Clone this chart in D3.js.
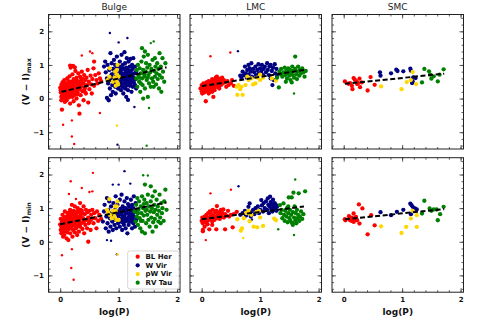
<!DOCTYPE html>
<html><head><meta charset="utf-8">
<script src="https://cdn.jsdelivr.net/npm/d3@7"></script>
<style>body{margin:0;background:#fff}svg{display:block}</style>
</head><body>
<script>
// ---------- DATA ----------
const regions = ["Bulge", "LMC", "SMC"];
const classes = ["BL Her", "W Vir", "pW Vir", "RV Tau"];
const xTicks = [0, 1, 2];
const yTicks = [-1, 0, 1, 2];

// Bulge (V-I)max
const bulgeMaxBLHer = [[0.00,0.32],[0.01,0.18],[0.02,0.05],[0.02,0.41],[0.03,-0.33],[0.03,0.26],[0.04,0.12],[0.04,0.36],[0.05,0.21],[0.05,0.48],[0.06,0.02],[0.06,0.30],[0.07,0.15],[0.07,0.55],[0.08,-0.10],[0.08,0.38],[0.09,0.24],[0.09,0.08],[0.10,0.45],[0.10,0.17],[0.11,0.31],[0.11,-0.05],[0.12,0.60],[0.12,0.22],[0.13,0.10],[0.13,0.40],[0.14,0.28],[0.14,0.52],[0.15,0.03],[0.15,0.35],[0.16,0.19],[0.16,0.66],[0.17,0.44],[0.17,-0.15],[0.17,0.98],[0.18,0.27],[0.18,0.92],[0.19,0.12],[0.19,0.50],[0.20,0.33],[0.21,0.05],[0.21,0.72],[0.22,0.40],[0.22,0.20],[0.22,0.97],[0.23,0.58],[0.23,-0.08],[0.24,0.30],[0.25,0.93],[0.25,0.15],[0.26,0.47],[0.26,0.82],[0.27,0.25],[0.28,0.62],[0.28,0.00],[0.29,0.38],[0.30,0.52],[0.30,0.18],[0.31,0.75],[0.32,-0.20],[0.32,0.42],[0.33,-0.45],[0.33,0.28],[0.34,0.65],[0.35,0.10],[0.35,0.50],[0.36,0.35],[0.37,0.80],[0.38,0.22],[0.39,0.58],[0.40,0.45],[0.40,-0.05],[0.41,0.70],[0.42,0.30],[0.43,0.55],[0.44,0.15],[0.45,0.62],[0.46,0.40],[0.47,0.85],[0.48,-0.12],[0.49,0.50],[0.50,0.28],[0.52,0.68],[0.53,0.42],[0.54,0.15],[0.55,0.58],[0.57,0.90],[0.58,1.10],[0.58,0.38],[0.60,0.70],[0.62,0.55],[0.64,0.45],[0.66,0.75],[0.68,0.60],[0.70,0.52],[0.01,0.25],[0.03,0.08],[0.04,0.48],[0.06,0.20],[0.08,0.28],[0.09,0.40],[0.11,0.12],[0.12,0.34],[0.14,0.05],[0.15,0.22],[0.16,0.42],[0.18,0.15],[0.19,0.30],[0.21,0.48],[0.23,0.35],[0.24,0.10],[0.26,0.25],[0.27,0.55],[0.29,0.12],[0.31,0.30],[0.34,0.40],[0.36,0.60],[0.38,0.45],[0.42,0.20],[0.44,0.38],[0.02,-0.05],[0.07,0.35],[0.10,0.00],[0.13,0.20],[0.20,0.10]];
const bulgeMaxBLHerFaint = [[0.05,-0.78],[0.20,-0.65],[0.20,-1.13],[0.24,-1.35],[0.37,1.28],[0.51,1.40],[0.55,1.35],[0.68,-0.43]];
const bulgeMaxWVir = [[0.75,0.95],[0.77,1.10],[0.78,0.78],[0.80,0.02],[0.80,0.60],[0.81,1.00],[0.82,0.45],[0.83,-0.05],[0.84,0.85],[0.85,0.30],[0.86,1.35],[0.86,0.55],[0.87,0.10],[0.88,0.72],[0.88,1.05],[0.89,0.40],[0.90,0.88],[0.90,0.20],[0.91,0.62],[0.92,1.15],[0.92,0.50],[0.93,0.78],[0.94,0.35],[0.94,1.00],[0.95,0.65],[0.95,0.15],[0.96,0.90],[0.96,0.45],[0.97,1.25],[0.97,0.58],[0.98,0.80],[0.99,0.30],[1.00,0.70],[1.00,0.50],[1.01,0.95],[1.02,0.40],[1.02,1.10],[1.03,0.62],[1.04,0.25],[1.04,0.85],[1.05,0.55],[1.05,1.30],[1.06,0.75],[1.06,0.35],[1.07,1.00],[1.08,0.60],[1.08,0.15],[1.09,0.88],[1.09,0.45],[1.10,1.38],[1.10,0.68],[1.11,0.30],[1.11,1.05],[1.12,0.55],[1.12,0.80],[1.13,0.05],[1.13,0.92],[1.14,0.40],[1.14,1.20],[1.15,0.65],[1.16,0.25],[1.16,0.85],[1.16,-0.04],[1.17,0.50],[1.17,1.10],[1.18,0.72],[1.19,0.38],[1.19,0.95],[1.20,0.60],[1.20,1.18],[1.21,0.45],[1.21,0.82],[1.22,0.20],[1.22,0.70],[1.23,1.00],[1.23,0.55],[1.24,0.35],[1.24,0.88],[1.25,0.62],[1.25,1.20],[1.26,0.48],[1.27,0.75],[1.28,0.40],[1.28,0.95],[1.29,0.58],[1.30,0.30],[1.30,0.80],[1.03,0.48],[1.07,0.70],[1.13,0.62],[1.18,0.48],[1.22,0.58],[0.98,0.62],[1.01,0.38],[1.03,0.78],[1.05,0.42],[1.07,0.58],[1.09,0.72],[1.11,0.48],[1.13,0.75],[1.15,0.52],[1.17,0.62],[1.19,0.78],[1.21,0.65],[1.24,0.72],[1.26,0.60],[1.06,0.90],[1.12,0.35]];
const bulgeMaxWVirFaint = [[0.85,1.95],[1.00,1.67],[1.15,1.80],[1.27,-0.25],[0.98,-1.37]];
const bulgeMaxPWVir = [[0.81,0.55],[0.84,0.65],[0.85,0.90],[0.90,0.50],[0.93,0.62],[0.94,0.80],[0.95,0.38],[0.96,0.55],[0.97,0.72],[0.98,1.00],[0.98,0.48],[0.99,0.42],[0.95,0.58],[0.97,0.85],[1.00,0.65]];
const bulgeMaxPWVirFaint = [[0.97,-0.80]];
const bulgeMaxRVTau = [[1.30,0.60],[1.31,0.85],[1.32,0.35],[1.33,1.00],[1.34,0.70],[1.35,0.50],[1.36,0.90],[1.37,0.20],[1.38,0.75],[1.39,1.10],[1.40,0.60],[1.40,1.50],[1.41,0.40],[1.42,0.00],[1.42,0.85],[1.43,1.25],[1.44,0.65],[1.45,1.40],[1.45,0.30],[1.46,0.80],[1.47,1.05],[1.48,0.55],[1.49,0.92],[1.50,0.05],[1.50,1.30],[1.51,0.70],[1.52,0.45],[1.53,1.00],[1.54,0.78],[1.55,0.35],[1.56,0.88],[1.57,0.60],[1.58,1.15],[1.59,0.50],[1.60,0.35],[1.61,0.82],[1.62,1.20],[1.62,0.65],[1.63,0.95],[1.64,0.42],[1.65,0.75],[1.66,1.05],[1.67,0.58],[1.68,0.88],[1.69,0.30],[1.70,1.35],[1.70,0.70],[1.72,0.95],[1.73,0.20],[1.74,0.62],[1.75,1.20],[1.76,0.80],[1.78,0.50],[1.80,1.05],[1.35,0.62],[1.38,0.45],[1.44,0.72],[1.50,0.62]];
const bulgeMaxRVTauFaint = [[1.48,-1.40],[1.52,-0.28],[1.55,1.65],[1.60,1.70]];
const bulgeMaxFit = [[0.02,0.20],[1.82,0.93]];

// Bulge (V-I)min
const bulgeMinBLHer = [[0.00,0.52],[0.01,0.35],[0.01,0.68],[0.02,0.25],[0.02,0.45],[0.03,0.60],[0.04,0.30],[0.04,0.80],[0.05,0.48],[0.05,0.15],[0.06,0.62],[0.06,0.38],[0.07,0.72],[0.07,0.20],[0.08,0.50],[0.08,0.90],[0.09,0.33],[0.09,0.58],[0.10,0.42],[0.10,0.75],[0.11,0.10],[0.11,0.55],[0.12,0.65],[0.12,0.28],[0.13,0.85],[0.13,0.45],[0.14,0.60],[0.14,0.05],[0.15,0.38],[0.16,0.70],[0.16,0.50],[0.17,0.95],[0.17,0.25],[0.18,0.62],[0.19,0.42],[0.20,0.80],[0.20,1.10],[0.21,0.55],[0.21,0.15],[0.22,0.70],[0.22,0.35],[0.23,0.92],[0.24,0.48],[0.24,0.62],[0.25,1.05],[0.25,0.28],[0.26,0.75],[0.26,0.52],[0.27,0.40],[0.28,0.85],[0.28,0.60],[0.29,0.20],[0.30,0.70],[0.30,1.00],[0.31,0.48],[0.32,0.88],[0.32,0.30],[0.33,0.62],[0.34,1.15],[0.34,0.45],[0.35,0.78],[0.36,0.55],[0.37,0.92],[0.38,0.38],[0.39,0.70],[0.40,0.58],[0.40,1.05],[0.41,0.25],[0.42,0.82],[0.43,0.50],[0.44,0.95],[0.45,0.65],[0.46,0.40],[0.47,0.88],[0.48,0.00],[0.48,0.72],[0.49,0.55],[0.50,0.92],[0.51,0.62],[0.52,0.35],[0.53,0.80],[0.54,0.68],[0.55,0.95],[0.57,0.55],[0.58,0.85],[0.60,0.70],[0.62,0.40],[0.63,0.90],[0.65,0.62],[0.67,0.80],[0.70,0.68],[0.01,0.50],[0.03,0.38],[0.04,0.62],[0.06,0.50],[0.08,0.35],[0.09,0.70],[0.11,0.40],[0.12,0.52],[0.14,0.75],[0.15,0.55],[0.17,0.45],[0.18,0.78],[0.20,0.58],[0.21,0.88],[0.23,0.50],[0.24,0.80],[0.26,0.65],[0.28,0.45],[0.29,0.90],[0.31,0.75],[0.33,0.55],[0.35,0.95],[0.36,0.70],[0.38,0.85],[0.41,0.62],[0.05,0.30],[0.10,0.62],[0.13,0.68],[0.16,0.88],[0.19,0.68]];
const bulgeMinBLHerFaint = [[0.03,-0.40],[0.15,1.42],[0.18,1.80],[0.19,-0.78],[0.20,-0.22],[0.23,-1.13],[0.27,1.27],[0.37,1.60],[0.50,1.48],[0.55,1.50],[0.56,2.05]];
const bulgeMinWVir = [[0.73,0.60],[0.75,0.90],[0.76,1.10],[0.78,0.40],[0.79,0.75],[0.80,1.30],[0.81,0.55],[0.82,0.95],[0.83,0.30],[0.84,1.20],[0.85,0.70],[0.86,0.45],[0.87,1.05],[0.88,0.85],[0.89,0.60],[0.90,0.35],[0.91,1.15],[0.92,0.75],[0.93,0.50],[0.94,0.95],[0.95,1.35],[0.95,0.65],[0.96,0.40],[0.97,0.85],[0.98,1.10],[0.99,0.55],[1.00,0.90],[1.01,0.70],[1.02,1.25],[1.02,0.45],[1.03,0.98],[1.04,0.62],[1.05,1.40],[1.05,0.80],[1.06,0.35],[1.07,1.05],[1.07,0.68],[1.08,0.90],[1.09,0.50],[1.10,1.20],[1.10,0.78],[1.11,0.60],[1.12,1.00],[1.12,0.40],[1.13,0.85],[1.14,1.30],[1.14,0.65],[1.15,0.95],[1.15,0.25],[1.16,1.12],[1.17,0.72],[1.17,0.50],[1.18,1.05],[1.19,0.85],[1.20,0.60],[1.21,1.25],[1.21,0.92],[1.22,0.70],[1.23,0.40],[1.23,1.10],[1.24,0.80],[1.25,1.00],[1.25,0.55],[1.26,1.35],[1.27,0.75],[1.28,0.90],[1.28,0.45],[1.29,1.15],[1.30,0.65],[1.30,0.95],[1.04,0.82],[1.08,0.72],[1.13,0.95],[1.18,0.80],[1.22,1.00],[0.99,0.78],[1.01,0.60],[1.03,0.85],[1.06,0.58],[1.09,0.95],[1.11,0.70],[1.16,0.62],[1.19,0.72],[1.24,0.65],[1.26,0.88]];
const bulgeMinWVirFaint = [[0.80,0.05],[0.87,0.03],[0.90,1.70],[0.97,-0.37],[1.00,1.70],[1.10,2.10],[1.20,1.73]];
const bulgeMinPWVir = [[0.80,0.95],[0.82,0.88],[0.84,1.27],[0.85,0.80],[0.88,0.70],[0.90,0.92],[0.92,0.85],[0.93,0.75],[0.95,0.92],[0.96,0.65],[0.97,1.05],[0.98,1.20],[1.00,0.65],[0.94,1.05]];
const bulgeMinPWVirFaint = [[0.98,-0.37]];
const bulgeMinRVTau = [[1.27,0.90],[1.29,0.60],[1.30,1.10],[1.31,0.75],[1.32,1.30],[1.33,0.50],[1.34,0.95],[1.35,1.20],[1.36,0.70],[1.37,0.40],[1.38,1.05],[1.39,0.85],[1.40,0.30],[1.40,1.35],[1.41,0.62],[1.42,1.00],[1.43,0.78],[1.44,1.25],[1.45,0.25],[1.45,1.70],[1.46,0.92],[1.47,0.55],[1.48,1.15],[1.49,0.80],[1.50,1.40],[1.51,0.65],[1.52,1.05],[1.53,0.45],[1.54,0.90],[1.55,1.65],[1.55,1.20],[1.56,0.72],[1.57,1.00],[1.58,0.30],[1.58,1.35],[1.59,0.58],[1.60,0.88],[1.61,1.10],[1.62,1.50],[1.62,0.68],[1.63,0.95],[1.64,0.45],[1.65,1.25],[1.66,0.80],[1.67,1.05],[1.68,0.60],[1.69,0.92],[1.70,1.40],[1.71,0.72],[1.72,0.55],[1.73,1.15],[1.74,0.85],[1.75,1.00],[1.77,0.62],[1.78,1.20],[1.80,1.55],[1.82,0.95],[1.33,0.85],[1.38,0.62],[1.43,1.12],[1.48,0.95]];
const bulgeMinRVTauFaint = [[1.42,1.98],[1.50,1.97]];
const bulgeMinFit = [[0.00,0.52],[1.82,1.17]];

// LMC (V-I)max
const lmcMaxBLHer = [[-0.02,0.30],[0.00,0.22],[0.00,0.40],[0.01,0.15],[0.02,0.33],[0.03,0.25],[0.03,0.45],[0.04,0.18],[0.04,0.30],[0.05,0.20],[0.05,0.38],[0.06,0.28],[0.07,-0.08],[0.07,0.42],[0.08,0.32],[0.08,0.48],[0.09,0.22],[0.10,0.48],[0.10,0.35],[0.11,0.28],[0.12,0.40],[0.12,0.52],[0.12,0.15],[0.13,0.30],[0.14,0.45],[0.14,0.20],[0.15,0.36],[0.16,0.50],[0.17,0.42],[0.17,0.28],[0.18,0.58],[0.18,0.20],[0.19,0.38],[0.20,0.05],[0.20,0.48],[0.21,0.32],[0.22,0.55],[0.22,0.25],[0.23,0.42],[0.24,0.62],[0.25,0.35],[0.26,0.50],[0.26,0.65],[0.27,0.45],[0.28,0.60],[0.29,0.38],[0.30,0.52],[0.30,0.30],[0.31,0.46],[0.32,0.58],[0.33,0.40],[0.34,0.50],[0.35,0.62],[0.36,0.45],[0.38,0.55],[0.40,0.48],[0.42,0.35],[0.44,0.52],[0.46,0.40],[0.50,0.45],[0.52,0.55],[0.55,0.38]];
const lmcMaxBLHerFaint = [[0.15,1.26],[0.49,1.37]];
const lmcMaxWVir = [[0.66,0.68],[0.68,0.62],[0.70,0.80],[0.72,0.70],[0.74,0.95],[0.75,0.75],[0.77,0.62],[0.78,0.85],[0.80,1.00],[0.80,0.72],[0.82,0.90],[0.84,0.80],[0.85,1.05],[0.86,0.65],[0.88,0.88],[0.90,0.78],[0.92,0.95],[0.93,0.70],[0.95,0.85],[0.97,1.02],[0.98,0.75],[1.00,0.90],[1.02,0.80],[1.03,1.00],[1.05,0.70],[1.06,0.88],[1.08,0.95],[1.10,0.78],[1.12,1.05],[1.13,0.85],[1.15,0.70],[1.16,0.95],[1.18,0.60],[1.18,1.00],[1.20,0.82],[1.21,0.40],[1.22,0.92],[1.23,0.55],[1.25,1.02],[1.26,0.75],[1.28,0.88],[1.29,0.65]];
const lmcMaxWVirFaint = [[0.62,1.41]];
const lmcMaxPWVir = [[0.60,0.35],[0.63,0.40],[0.66,0.28],[0.61,0.11],[0.70,0.11],[0.68,0.35],[0.75,0.40],[0.78,0.65],[0.80,0.55],[0.85,0.60],[0.88,0.42],[0.92,0.45],[0.95,0.62],[1.00,0.55],[1.00,0.71],[1.05,0.62],[1.20,0.60],[1.27,0.53]];
const lmcMaxPWVirFaint = [];
const lmcMaxRVTau = [[1.29,0.62],[1.32,0.33],[1.33,0.80],[1.35,0.72],[1.36,0.88],[1.38,0.65],[1.40,0.78],[1.42,0.92],[1.43,0.70],[1.44,0.50],[1.45,0.82],[1.46,0.60],[1.47,0.75],[1.48,0.90],[1.50,0.68],[1.51,0.85],[1.52,0.55],[1.53,0.78],[1.54,0.48],[1.55,0.95],[1.56,0.70],[1.57,0.82],[1.58,0.62],[1.60,1.25],[1.60,0.88],[1.62,0.72],[1.63,0.58],[1.64,0.80],[1.65,0.95],[1.67,0.68],[1.68,0.85],[1.70,0.75],[1.72,0.90],[1.74,0.78],[1.76,0.65],[1.78,0.82]];
const lmcMaxRVTauFaint = [[1.58,0.15]];
const lmcMaxFit = [[0.00,0.37],[1.75,0.85]];

// LMC (V-I)min
const lmcMinBLHer = [[0.00,0.62],[0.01,0.72],[0.02,0.35],[0.02,0.31],[0.02,0.55],[0.03,0.68],[0.04,0.60],[0.05,0.75],[0.05,0.45],[0.06,0.65],[0.07,0.58],[0.08,0.80],[0.09,0.70],[0.10,0.62],[0.10,0.52],[0.11,0.85],[0.12,0.72],[0.13,0.37],[0.13,0.66],[0.14,0.90],[0.15,0.75],[0.16,0.68],[0.17,0.82],[0.18,0.60],[0.18,0.50],[0.19,0.95],[0.20,0.72],[0.21,0.78],[0.22,0.65],[0.23,0.88],[0.24,0.74],[0.25,0.37],[0.25,0.92],[0.26,1.06],[0.27,0.70],[0.28,0.82],[0.29,0.76],[0.30,0.88],[0.31,0.68],[0.32,0.80],[0.33,0.95],[0.34,0.74],[0.35,0.85],[0.37,0.96],[0.38,0.72],[0.40,0.37],[0.40,0.82],[0.42,0.78],[0.45,0.92],[0.47,0.75],[0.50,0.80],[0.53,0.43],[0.55,0.82],[0.60,0.89]];
const lmcMinBLHerFaint = [[0.07,0.05],[0.15,1.44],[0.50,1.55]];
const lmcMinWVir = [[0.66,0.80],[0.70,0.85],[0.74,0.92],[0.76,0.78],[0.80,1.04],[0.82,1.14],[0.84,0.88],[0.84,0.75],[0.88,0.95],[0.90,0.82],[0.92,1.00],[0.94,0.90],[0.96,1.05],[0.98,0.85],[1.00,0.95],[1.02,1.24],[1.03,1.08],[1.05,0.90],[1.06,1.15],[1.08,1.00],[1.10,1.20],[1.12,0.95],[1.13,1.29],[1.14,1.10],[1.15,0.85],[1.16,1.05],[1.17,1.34],[1.18,1.18],[1.19,0.98],[1.20,1.12],[1.21,0.90],[1.22,1.25],[1.23,1.05],[1.24,0.95],[1.25,1.15],[1.26,1.00],[1.27,1.10],[1.28,0.92],[1.29,1.05]];
const lmcMinWVirFaint = [[0.63,1.65],[0.86,0.66]];
const lmcMinPWVir = [[0.61,0.67],[0.67,0.33],[0.69,0.40],[0.72,0.70],[0.76,0.86],[0.78,0.85],[0.80,0.92],[0.82,0.61],[0.85,0.80],[0.89,0.45],[0.94,0.89],[0.95,0.43],[0.98,0.92],[1.00,0.72],[1.05,0.47],[1.24,0.69],[1.27,0.64]];
const lmcMinPWVirFaint = [[0.71,0.11]];
const lmcMinRVTau = [[1.34,1.09],[1.35,0.85],[1.37,0.95],[1.38,0.70],[1.40,1.14],[1.41,0.80],[1.42,0.62],[1.43,0.92],[1.45,0.75],[1.46,1.00],[1.47,0.58],[1.48,0.85],[1.48,1.05],[1.49,1.32],[1.50,0.70],[1.51,0.95],[1.52,0.62],[1.53,0.80],[1.54,1.32],[1.55,0.55],[1.56,0.50],[1.56,0.88],[1.57,1.46],[1.58,0.72],[1.59,1.05],[1.60,0.62],[1.61,0.85],[1.62,0.55],[1.63,0.95],[1.64,0.70],[1.65,0.80],[1.66,1.44],[1.67,0.62],[1.68,0.75],[1.70,0.90],[1.72,0.68],[1.74,0.82],[1.77,1.50]];
const lmcMinRVTauFaint = [[1.31,0.37],[1.58,0.20],[1.60,1.85]];
const lmcMinFit = [[0.00,0.67],[1.75,1.05]];

// SMC (V-I)max
const smcMaxBLHer = [[0.02,0.51],[0.08,0.44],[0.11,0.46],[0.14,0.38],[0.15,0.28],[0.17,0.61],[0.19,0.56],[0.22,0.51],[0.23,0.43],[0.25,0.46],[0.27,0.59],[0.28,0.34],[0.31,0.48],[0.41,0.24],[0.46,0.64],[0.53,0.41]];
const smcMaxWVir = [[0.62,0.78],[0.63,0.68],[0.81,0.75],[0.90,0.86],[0.92,0.82],[1.02,0.81],[1.14,0.89],[1.15,0.83],[1.17,0.46],[1.18,0.51],[1.19,0.63],[1.23,0.61]];
const smcMaxPWVir = [[0.64,0.36],[0.99,0.28],[1.08,0.49],[1.15,0.55],[1.18,0.79],[1.24,0.43]];
const smcMaxRVTau = [[1.34,0.48],[1.38,0.88],[1.46,0.81],[1.48,0.71],[1.50,0.59],[1.54,0.66],[1.61,0.51],[1.64,0.71],[1.71,0.87]];
const smcMaxFit = [[0.02,0.44],[1.72,0.74]];

// SMC (V-I)min
const smcMinBLHer = [[0.02,0.67],[0.03,0.64],[0.09,0.76],[0.11,0.64],[0.14,0.72],[0.14,0.62],[0.17,0.84],[0.17,0.59],[0.19,0.64],[0.21,0.74],[0.23,0.64],[0.26,1.11],[0.27,0.54],[0.32,0.99],[0.41,0.22],[0.47,0.79],[0.53,0.49]];
const smcMinWVir = [[0.63,0.88],[0.81,0.79],[0.91,0.89],[1.02,0.95],[1.14,1.13],[1.16,1.09],[1.18,1.04],[1.22,0.99],[1.15,0.82],[1.25,0.96]];
const smcMinPWVir = [[0.64,0.46],[0.99,0.26],[1.07,0.44],[1.15,0.69],[1.18,0.92],[1.25,0.79],[1.25,0.44]];
const smcMinRVTau = [[1.34,0.84],[1.38,1.22],[1.47,0.99],[1.50,0.92],[1.54,0.96],[1.59,0.96],[1.61,0.64],[1.65,0.82],[1.71,1.04]];
const smcMinFit = [[0.02,0.67],[1.72,0.97]];

// ---------- LAYOUT ----------
const W = 488, H = 325;
const colX = [48.5, 190, 332], pw = 131.5;
const rowY = [14.5, 157.7], ph = 134.5;
const colors = ["#ff0000", "#000080", "#ffd700", "#008000"];
const FONT = "DejaVu Sans, sans-serif";

const panels = [
  {c:0, r:0, sets:[bulgeMaxBLHer, bulgeMaxWVir, bulgeMaxPWVir, bulgeMaxRVTau],
   faint:[bulgeMaxBLHerFaint, bulgeMaxWVirFaint, bulgeMaxPWVirFaint, bulgeMaxRVTauFaint], fit:bulgeMaxFit},
  {c:1, r:0, sets:[lmcMaxBLHer, lmcMaxWVir, lmcMaxPWVir, lmcMaxRVTau],
   faint:[lmcMaxBLHerFaint, lmcMaxWVirFaint, lmcMaxPWVirFaint, lmcMaxRVTauFaint], fit:lmcMaxFit},
  {c:2, r:0, sets:[smcMaxBLHer, smcMaxWVir, smcMaxPWVir, smcMaxRVTau], faint:[[],[],[],[]], fit:smcMaxFit},
  {c:0, r:1, sets:[bulgeMinBLHer, bulgeMinWVir, bulgeMinPWVir, bulgeMinRVTau],
   faint:[bulgeMinBLHerFaint, bulgeMinWVirFaint, bulgeMinPWVirFaint, bulgeMinRVTauFaint], fit:bulgeMinFit},
  {c:1, r:1, sets:[lmcMinBLHer, lmcMinWVir, lmcMinPWVir, lmcMinRVTau],
   faint:[lmcMinBLHerFaint, lmcMinWVirFaint, lmcMinPWVirFaint, lmcMinRVTauFaint], fit:lmcMinFit},
  {c:2, r:1, sets:[smcMinBLHer, smcMinWVir, smcMinPWVir, smcMinRVTau], faint:[[],[],[],[]], fit:smcMinFit}
];

const svg = d3.select("body").append("svg").attr("width", W).attr("height", H)
  .style("font-family", FONT);

const xMinor = d3.range(-0.2, 2.05, 0.2).map(v => +v.toFixed(2));
const yMinor = d3.range(-1.4, 2.45, 0.2).map(v => +v.toFixed(2));

panels.forEach(p => {
  const x0 = colX[p.c], y0 = rowY[p.r];
  const x = d3.scaleLinear().domain([-0.2, 2.05]).range([x0, x0 + pw]);
  const y = d3.scaleLinear().domain([-1.5, 2.5]).range([y0 + ph, y0]);
  const g = svg.append("g");

  const clipId = "clip" + p.c + p.r;
  g.append("clipPath").attr("id", clipId).append("rect")
    .attr("x", x0).attr("y", y0).attr("width", pw).attr("height", ph);
  const plot = g.append("g").attr("clip-path", `url(#${clipId})`);

  p.sets.forEach((s, i) => {
    plot.selectAll(null).data(s).enter().append("circle")
      .attr("cx", d => x(d[0])).attr("cy", d => y(d[1])).attr("r", 2.15)
      .attr("fill", colors[i]);
    plot.selectAll(null).data(p.faint[i]).enter().append("circle")
      .attr("cx", d => x(d[0])).attr("cy", d => y(d[1])).attr("r", 1.2)
      .attr("fill", colors[i]);
  });

  plot.append("path").datum(p.fit)
    .attr("d", d3.line().x(d => x(d[0])).y(d => y(d[1])))
    .attr("stroke", "#000").attr("stroke-width", 2).attr("fill", "none")
    .attr("stroke-dasharray", "5,2.6");

  const mk = (axis, tx, ty) => g.append("g").attr("transform", `translate(${tx},${ty})`).call(axis)
      .call(a => a.select(".domain").remove());
  const fmt = d3.format("d");
  const bottom = mk(d3.axisBottom(x).tickValues(xTicks).tickSizeInner(-4).tickSizeOuter(0)
      .tickFormat(p.r === 1 ? fmt : () => ""), 0, y0 + ph);
  mk(d3.axisBottom(x).tickValues(xMinor).tickSizeInner(-2).tickSizeOuter(0).tickFormat(() => ""), 0, y0 + ph);
  mk(d3.axisTop(x).tickValues(xTicks).tickSizeInner(-4).tickSizeOuter(0).tickFormat(() => ""), 0, y0);
  mk(d3.axisTop(x).tickValues(xMinor).tickSizeInner(-2).tickSizeOuter(0).tickFormat(() => ""), 0, y0);
  const left = mk(d3.axisLeft(y).tickValues(yTicks).tickSizeInner(-4).tickSizeOuter(0)
      .tickFormat(p.c === 0 ? (d => d < 0 ? "\u2212" + Math.abs(d) : String(d)) : () => ""), x0, 0);
  mk(d3.axisLeft(y).tickValues(yMinor).tickSizeInner(-2).tickSizeOuter(0).tickFormat(() => ""), x0, 0);
  mk(d3.axisRight(y).tickValues(yTicks).tickSizeInner(-4).tickSizeOuter(0).tickFormat(() => ""), x0 + pw, 0);
  mk(d3.axisRight(y).tickValues(yMinor).tickSizeInner(-2).tickSizeOuter(0).tickFormat(() => ""), x0 + pw, 0);

  g.selectAll(".tick line").attr("stroke", "#333").attr("stroke-width", 0.8);
  g.selectAll(".tick text").attr("font-family", FONT).attr("font-weight", "bold")
    .attr("font-size", 7).attr("fill", "#111");
  bottom.selectAll(".tick text").attr("dy", 0).attr("y", 10);
  left.selectAll(".tick text").attr("x", -4.5).attr("dy", "0.33em");

  g.append("rect").attr("x", x0).attr("y", y0).attr("width", pw).attr("height", ph)
    .attr("fill", "none").attr("stroke", "#222").attr("stroke-width", 1);

  if (p.r === 0) {
    svg.append("text").attr("x", x0 + pw / 2).attr("y", 9.5).attr("text-anchor", "middle")
      .attr("font-size", 9).attr("fill", "#222").text(regions[p.c]);
  }
  if (p.r === 1) {
    svg.append("text").attr("x", x0 + pw / 2).attr("y", 315).attr("text-anchor", "middle")
      .attr("font-size", 9).attr("font-weight", "bold").attr("fill", "#111").text("log(P)");
  }
  if (p.c === 0) {
    const t = svg.append("text").attr("transform", `translate(29,${y0 + ph / 2}) rotate(-90)`)
      .attr("text-anchor", "middle").attr("font-size", 9).attr("font-weight", "bold").attr("fill", "#111");
    t.append("tspan").text("(V \u2212 I)");
    t.append("tspan").attr("font-size", 6.3).attr("dy", 2).text(p.r === 0 ? "max" : "min");
  }
});

// legend
const lg = svg.append("g");
lg.append("rect").attr("x", 127.7).attr("y", 251).attr("width", 51.3).attr("height", 38)
  .attr("rx", 2).attr("fill", "#fff").attr("fill-opacity", 0.85).attr("stroke", "#ccc").attr("stroke-width", 0.8);
classes.forEach((c, i) => {
  const yy = 256.7 + i * 8.67;
  lg.append("circle").attr("cx", 137.7).attr("cy", yy).attr("r", 2.1).attr("fill", colors[i]);
  lg.append("text").attr("x", 145.5).attr("y", yy).attr("dy", "0.35em")
    .attr("font-size", 7).attr("font-weight", "bold").attr("fill", "#111").text(c);
});
</script>
</body></html>
